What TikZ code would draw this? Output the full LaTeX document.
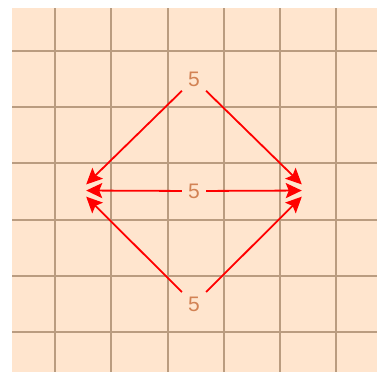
\documentclass[tikz,border=0pt]{standalone}
\usepackage{fontspec}
\setmainfont{Liberation Sans}
\usetikzlibrary{arrows.meta}
\definecolor{bgpeach}{RGB}{255,229,206}
\definecolor{gridtan}{RGB}{186,156,128}
\definecolor{numcol}{RGB}{210,130,84}
\begin{document}
\begin{tikzpicture}[x=1pt,y=-1pt,
  numnode/.style={text=numcol,font=\fontsize{21}{21}\selectfont,inner sep=6pt},
  endpt/.style={inner sep=0pt,minimum size=12pt},
  redarrow/.style={draw=red,line width=1.8pt,-{Stealth[length=16pt,width=15pt,inset=3pt]}}]
\useasboundingbox (0,0) rectangle (377,372);
\fill[bgpeach] (12,8) rectangle (377,372);
\foreach \k in {0,...,5}{
  \draw[gridtan,line width=2pt] ({55.2+56.2*\k},8) -- ({55.2+56.2*\k},372);
  \draw[gridtan,line width=2pt] (12,{51+56.2*\k}) -- (377,{51+56.2*\k});
}
\node[numnode] (t) at (194,79) {5};
\node[numnode] (m) at (194,191) {5};
\node[numnode] (b) at (194,304) {5};
\node[endpt] (L) at (80,190.5) {};
\node[endpt] (R) at (308,190.5) {};
\draw[redarrow] (t) -- (L);
\draw[redarrow] (t) -- (R);
\draw[redarrow] (m) -- (L);
\draw[redarrow] (m) -- (R);
\draw[redarrow] (b) -- (L);
\draw[redarrow] (b) -- (R);
\end{tikzpicture}
\end{document}
